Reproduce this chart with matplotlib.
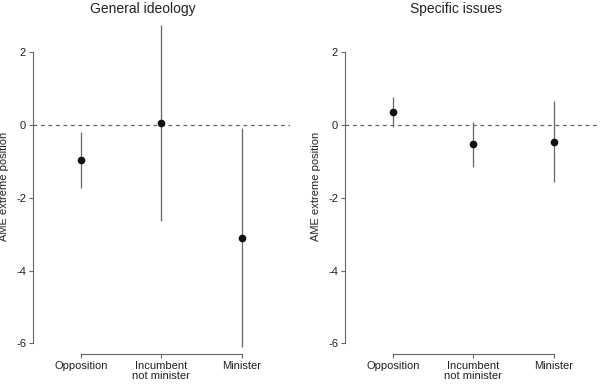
import matplotlib
matplotlib.use("Agg")
import matplotlib.pyplot as plt
import numpy as np

plt.rcParams['font.family'] = ['Liberation Sans', 'DejaVu Sans']

# data
categories = ["Opposition", "Incumbent\nnot minister", "Minister"]
ideology_est = [-0.95, 0.05, -3.1]
ideology_lo = [-1.72, -2.63, -6.1]
ideology_hi = [-0.19, 2.75, -0.09]
issues_est = [0.36, -0.53, -0.46]
issues_lo = [-0.06, -1.15, -1.56]
issues_hi = [0.78, 0.09, 0.66]
titles = ["General ideology", "Specific issues"]
yticks = [2, 0, -2, -4, -6]

fig = plt.figure(figsize=(6, 3.84), dpi=100)
ax1 = fig.add_axes([0.055, 0.078, 0.428, 0.8714])
ax2 = fig.add_axes([0.575, 0.078, 0.428, 0.8714])

grey = "#666666"
x = np.arange(1, 4)

panels = [(ax1, ideology_est, ideology_lo, ideology_hi),
          (ax2, issues_est, issues_lo, issues_hi)]
title_x = [143 / 600, 456 / 600]
for i, (ax, est, lo, hi) in enumerate(panels):
    ax.axhline(0, color=grey, ls=(0, (3, 3)), lw=0.9, zorder=1)
    ax.vlines(x, lo, hi, color=grey, lw=0.9, zorder=2)
    ax.plot(x, est, "o", color="#111111", ms=4.5, zorder=3)
    ax.set_xlim(0.4, 3.6)
    ax.set_ylim(-6.29, 2.9)
    ax.set_xticks(x)
    ax.set_xticklabels(categories, fontsize=8, color="#222222", linespacing=0.95)
    ax.set_yticks(yticks)
    ax.set_yticklabels([str(t) for t in yticks], fontsize=8, color="#222222")
    ax.set_ylabel("AME extreme position", fontsize=8, color="#222222", labelpad=5)
    fig.text(title_x[i], 1 - 9 / 384, titles[i], fontsize=10, color="#222222",
             ha="center", va="center")
    for s in ["top", "right"]:
        ax.spines[s].set_visible(False)
    ax.spines["left"].set_bounds(-6, 2)
    ax.spines["bottom"].set_bounds(1, 3)
    for s in ["left", "bottom"]:
        ax.spines[s].set_color(grey)
        ax.spines[s].set_linewidth(0.8)
    ax.tick_params(axis="both", color=grey, length=3, width=0.8, pad=2)

fig.savefig("out.png", dpi=100)
